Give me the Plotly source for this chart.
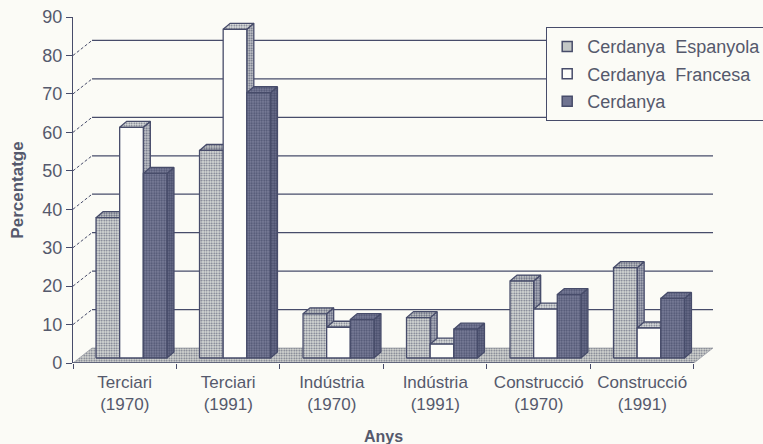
import plotly.graph_objects as go

categories = ["Terciari<br>(1970)", "Terciari<br>(1991)", "Indústria<br>(1970)",
              "Indústria<br>(1991)", "Construcció<br>(1970)", "Construcció<br>(1991)"]
espanyola = [36.5, 54, 11.5, 10.5, 20, 23.5]
francesa = [60, 85.5, 8, 3.6, 12.7, 7.8]
cerdanya = [48, 69, 10, 7.5, 16.5, 15.5]
gridvals = [10, 20, 30, 40, 50, 60, 70, 80]
yticks = [0, 10, 20, 30, 40, 50, 60, 70, 80, 90]

INK = "#474c6a"
TXT = "#55596c"
PAPER = "#fbfbf6"
PXX = 103.33          # px per category
PXY = 346 / 90        # px per y unit
WALLX, WALLY = 19 / PXX, 15 / PXY
DX, DY = 7 / PXX, 6 / PXY
BASE = 5 / PXY
BARW = 23.6 / PXX
START = 23 / PXX


def pat(bg, fg, size=3, sol=0.45):
    return dict(shape=".", bgcolor=bg, fgcolor=fg, size=size, solidity=sol, fillmode="replace")


fig = go.Figure()


def poly(xs, ys, **kw):
    fig.add_trace(go.Scatter(x=xs, y=ys, mode="lines", fill="toself", showlegend=False,
                             hoverinfo="skip", **kw))


# Gridlines on the back wall
gx, gy = [], []
for v in gridvals:
    gx += [0, WALLX, None]
    gy += [v, v + WALLY, None]
fig.add_trace(go.Scatter(x=gx, y=gy, mode="lines", line=dict(color=INK, width=1, dash="3px,2px"),
                         showlegend=False, hoverinfo="skip"))
gx, gy = [], []
for v in gridvals:
    gx += [WALLX, len(categories) + WALLX, None]
    gy += [v + WALLY, v + WALLY, None]
fig.add_trace(go.Scatter(x=gx, y=gy, mode="lines", line=dict(color=INK, width=1.2),
                         showlegend=False, hoverinfo="skip"))

# Floor
n = len(categories)
poly([0, WALLX, n + WALLX, n, 0], [0, WALLY, WALLY, 0, 0],
     line=dict(color="#8a8d98", width=0.6),
     fillpattern=pat("#d9dbd6", "#6a6e80", 2.5, 0.4))
# Base line of the x axis
fig.add_trace(go.Scatter(x=[0, n], y=[0, 0], mode="lines", line=dict(color=INK, width=1.4),
                         showlegend=False, hoverinfo="skip"))

series = [
    ("Cerdanya  Espanyola", espanyola, 0,
     pat("#dcdfda", "#666b80", 2.5, 0.4), pat("#b9bcc4", "#555a75", 2.5, 0.45), pat("#cfd2d0", "#5c6078", 2.5, 0.45), "#c3c7c6"),
    ("Cerdanya  Francesa", francesa, 1,
     None, pat("#c6c9cc", "#5c6078", 2.5, 0.4), pat("#dfe1e0", "#6a6e80", 2.5, 0.35), "#fdfdfa"),
    ("Cerdanya", cerdanya, 2,
     pat("#7d819c", "#4d5270", 2.5, 0.45), pat("#6f7390", "#454a68", 2.5, 0.5), pat("#7d819c", "#4d5270", 2.5, 0.45), "#6f7390"),
]

for name, vals, k, front, side, top, swatch in series:
    sx, sy, tx, ty, fx, fy = [], [], [], [], [], []
    for i, v in enumerate(vals):
        l = i + START + k * BARW
        r = l + BARW
        t = BASE + v
        sx += [r, r + DX, r + DX, r, r, None]
        sy += [BASE, BASE + DY, t + DY, t, BASE, None]
        tx += [l, l + DX, r + DX, r, l, None]
        ty += [t, t + DY, t + DY, t, t, None]
        fx += [l, r, r, l, l, None]
        fy += [BASE, BASE, t, t, BASE, None]
    line = dict(color=INK, width=1.3)
    poly(sx, sy, line=line, fillpattern=side, fillcolor=swatch)
    poly(tx, ty, line=line, fillpattern=top, fillcolor=swatch)
    if front:
        poly(fx, fy, line=line, fillpattern=front, fillcolor=swatch)
    else:
        poly(fx, fy, line=line, fillcolor=swatch)
    fig.add_trace(go.Scatter(x=[None], y=[None], mode="markers", name=name.replace("  ", "\u00a0\u00a0"), legendgroup=name,
                             marker=dict(symbol="square", size=10, color=swatch,
                                         line=dict(color=INK, width=1.5))))

fig.update_layout(
    width=763, height=444,
    margin=dict(l=73, r=50, t=17, b=81, autoexpand=False),
    paper_bgcolor=PAPER, plot_bgcolor=PAPER,
    font=dict(family="Liberation Sans", color=TXT, size=17),
    xaxis=dict(range=[0, n + WALLX], tickvals=[i + 0.5 for i in range(n)], ticktext=categories,
               ticks="", showgrid=False, zeroline=False, showline=False,
               tickfont=dict(size=17, color=TXT), ticklabelstandoff=7,
               minor=dict(tickvals=list(range(n + 1)), ticks="outside", ticklen=5,
                          tickcolor=INK, tickwidth=1.3, showgrid=False)),
    yaxis=dict(range=[0, 90], tickvals=yticks, ticks="outside", ticklen=6, tickcolor=INK, tickwidth=1.3,
               showgrid=False, zeroline=False, showline=True, linecolor=INK, linewidth=1.4,
               tickfont=dict(size=18, color=TXT),
               title=dict(text="<b>Percentatge</b>", font=dict(size=17, color=TXT), standoff=14)),
    legend=dict(x=(546 - 73) / 640, y=(363 - 27) / 346, xanchor="left", yanchor="top",
                bgcolor=PAPER, bordercolor=INK, borderwidth=1.2, tracegroupgap=1,
                font=dict(size=18, color=TXT), itemwidth=30),
    annotations=[dict(text="<b>Anys</b>", x=n / 2, xref="x", y=(363 - 436) / 346, yref="paper",
                      yanchor="middle", showarrow=False, font=dict(size=16, color=TXT))],
)

fig.write_html("out.html", config=dict(displayModeBar=False),
               post_script="document.body.style.margin='0';document.body.style.background='#fbfbf6';")
